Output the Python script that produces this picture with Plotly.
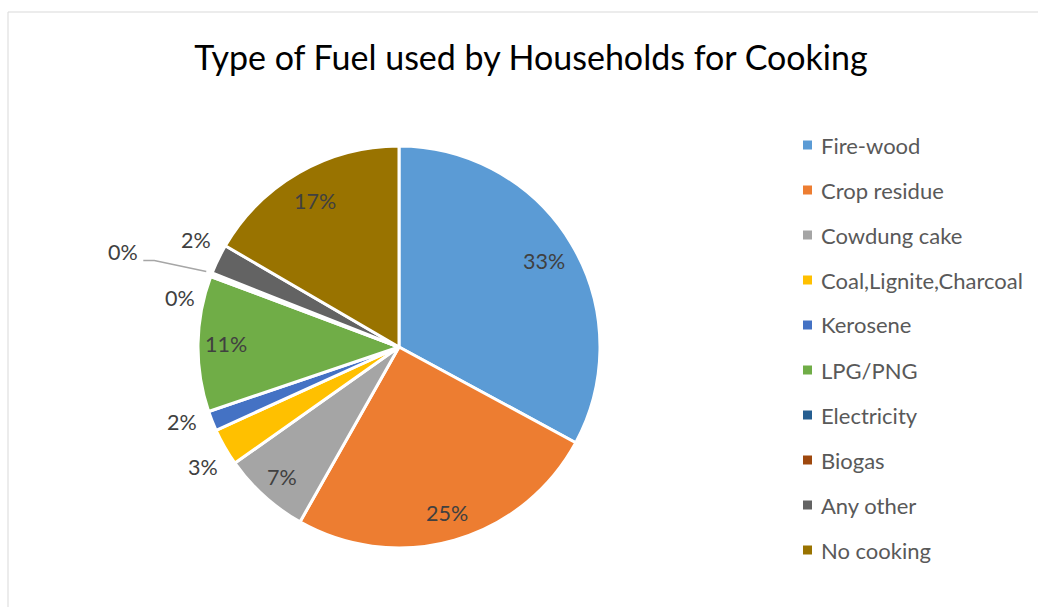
import math
import plotly.graph_objects as go

# Share of households by cooking fuel (%)
fuels = ["Fire-wood", "Crop residue", "Cowdung cake", "Coal,Lignite,Charcoal",
         "Kerosene", "LPG/PNG", "Electricity", "Biogas", "Any other", "No cooking"]
shares = [32.9, 25.3, 7.0, 3.0, 1.6, 10.9, 0.2, 0.1, 2.4, 16.6]
colors = ["#5B9BD5", "#ED7D31", "#A5A5A5", "#FFC000", "#4472C4",
          "#70AD47", "#255E91", "#9E480E", "#636363", "#997300"]

# Label placement per slice: (radius factor, angle nudge in degrees, leader line)
label_place = [(0.84, 0, False), (0.86, 0, False), (0.87, 0, False), (1.145, -1.5, False),
               (1.145, 2.5, False), (0.86, 0, False), (1.115, -8.3, False),
               (1.45, -2.5, True), (1.14, 1.8, False), (0.84, 0, False)]

W, H = 1038, 607
cx, cy, r = 399, 347, 201
FONT = "Lato, Open Sans, sans-serif"


def px(x, y):
    """Pixel position (from top-left) to paper coordinates."""
    return x / W, (H - y) / H


fig = go.Figure(go.Pie(
    labels=fuels,
    values=shares,
    sort=False,
    direction="clockwise",
    rotation=0,
    marker=dict(colors=colors, line=dict(color="white", width=3)),
    textinfo="none",
    hoverinfo="label+percent",
    domain=dict(x=[(cx - r) / W, (cx + r) / W], y=[(H - cy - r) / H, (H - cy + r) / H]),
    showlegend=False,
))

shapes = [dict(type="rect", xref="paper", yref="paper", x0=8 / W, x1=1.2, y0=-0.2, y1=(H - 12) / H,
               line=dict(color="#D9D9D9", width=1), fillcolor="rgba(0,0,0,0)", layer="below")]
annotations = []

# Percentage labels at each slice's mid-angle
total = sum(shares)
cum = 0.0
for val, (rf, nudge, leader) in zip(shares, label_place):
    mid = (cum + val / 2) / total * 360
    cum += val
    ang = math.radians(mid + nudge)
    lx = cx + rf * r * math.sin(ang)
    ly = cy - rf * r * math.cos(ang)
    x, y = px(lx, ly)
    annotations.append(dict(text=f"{round(val / total * 100)}%", xref="paper", yref="paper",
                            x=x, y=y, xanchor="center", yanchor="middle", showarrow=False,
                            font=dict(family=FONT, size=21.5, color="#404040")))
    if leader:
        m = math.radians(mid)
        ex, ey = cx + 1.03 * r * math.sin(m), cy - 1.03 * r * math.cos(m)
        sx, sy = lx + 20, ly + 8
        p0, p1, p2 = px(sx, sy), px(sx + 11, sy), px(ex, ey)
        shapes.append(dict(type="path", xref="paper", yref="paper",
                           path=f"M {p0[0]},{p0[1]} L {p1[0]},{p1[1]} L {p2[0]},{p2[1]}",
                           line=dict(color="#A6A6A6", width=1.5)))

# Legend drawn as colour squares with labels
for i, (name, col) in enumerate(zip(fuels, colors)):
    y = 145 + 45 * i
    shapes.append(dict(type="rect", xref="paper", yref="paper",
                       x0=803 / W, x1=812 / W, y0=(H - y - 4.5) / H, y1=(H - y + 4.5) / H,
                       fillcolor=col, line=dict(width=0)))
    annotations.append(dict(text=name, xref="paper", yref="paper", x=819 / W, y=(H - y) / H,
                            xanchor="left", yanchor="middle", showarrow=False,
                            font=dict(family=FONT, size=22, color="#595959")))

fig.update_layout(
    width=W, height=H,
    margin=dict(l=0, r=0, t=0, b=0),
    paper_bgcolor="white",
    title=dict(text="Type of Fuel used by Households for Cooking",
               x=531 / W, xanchor="center", y=(H - 58) / H, yanchor="middle",
               font=dict(family=FONT, size=34, color="#000000")),
    shapes=shapes,
    annotations=annotations,
)

fig.write_html("out.html")
